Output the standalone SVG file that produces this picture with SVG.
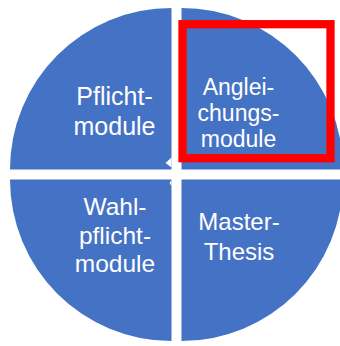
<svg xmlns="http://www.w3.org/2000/svg" width="340" height="346" viewBox="0 0 340 346">
<style>
.q{fill:#4472C4}
.t{fill:#FFFFFF;font-family:"Liberation Sans",Arial,sans-serif;text-anchor:middle}
.hl{fill:none;stroke:#FF0000;stroke-width:8.3}
</style>
<rect width="340" height="346" fill="#FFFFFF"/>
<g id="pflichtmodule">
<path class="q" d="M171.5,169.5 L10,169.5 A161.5,161.5 0 0 1 171.5,8 Z"/>
<text class="t" font-size="25" x="114.5" y="104.5">Pflicht-</text>
<text class="t" font-size="25" x="114.5" y="135">module</text>
</g>
<g id="angleichungsmodule">
<path class="q" d="M181.5,169.5 L181.5,8 A161.5,161.5 0 0 1 343,169.5 Z"/>
<text class="t" font-size="23" x="238.5" y="95">Anglei-</text>
<text class="t" font-size="23" x="238.5" y="121">chungs-</text>
<text class="t" font-size="23" x="238.5" y="147">module</text>
</g>
<g id="wahlpflichtmodule">
<path class="q" d="M171.5,179.5 L171.5,341 A161.5,161.5 0 0 1 10,179.5 Z"/>
<text class="t" font-size="24.5" x="115" y="215">Wahl-</text>
<text class="t" font-size="24.5" x="115" y="243.5">pflicht-</text>
<text class="t" font-size="24.5" x="115" y="271.5">module</text>
</g>
<g id="masterthesis">
<path class="q" d="M181.5,179.5 L343,179.5 A161.5,161.5 0 0 1 181.5,341 Z"/>
<text class="t" font-size="24" x="239" y="229.5">Master-</text>
<text class="t" font-size="24" x="239" y="260">Thesis</text>
</g>
<g id="connectors">
<polygon fill="#FFFFFF" points="165.5,163 171.5,157.5 171.5,167.5"/>
<polygon fill="#FFFFFF" points="171.5,180 169.5,183 171.5,186"/>
</g>
<g id="highlight">
<rect class="hl" x="182.5" y="24.2" width="148" height="134"/>
</g>
</svg>
